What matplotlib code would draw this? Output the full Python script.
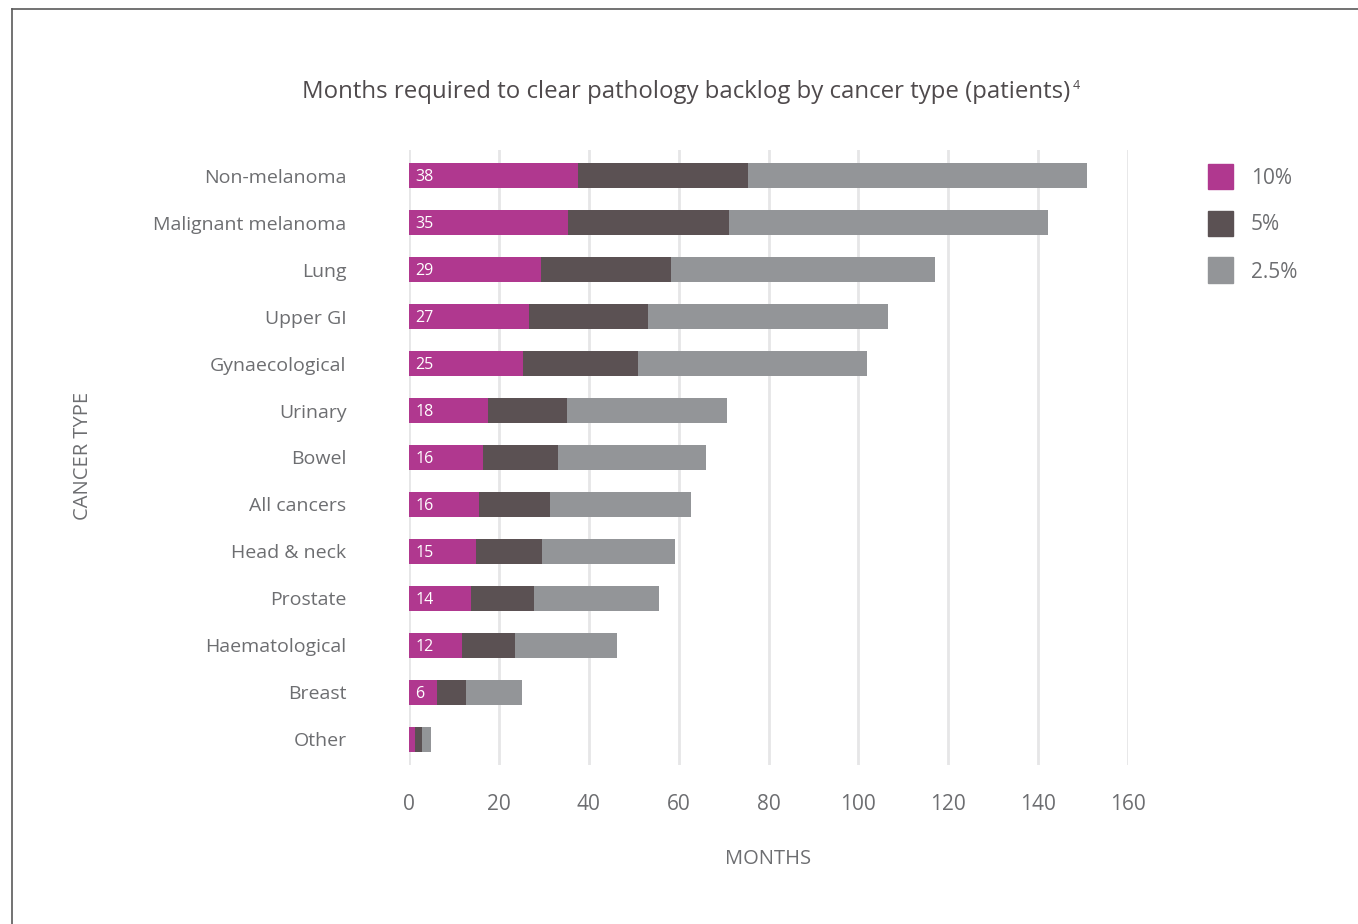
import matplotlib.pyplot as plt
from matplotlib.lines import Line2D
from matplotlib.patches import Rectangle
import numpy as np

plt.rcParams['font.family'] = ['Open Sans', 'DejaVu Sans']

# months needed to clear the backlog at each extra-capacity rate
cancer_types = ["Non-melanoma", "Malignant melanoma", "Lung", "Upper GI",
                "Gynaecological", "Urinary", "Bowel", "All cancers",
                "Head & neck", "Prostate", "Haematological", "Breast", "Other"]
months_10 = [37.7, 35.4, 29.3, 26.6, 25.3, 17.6, 16.4, 15.6, 14.8, 13.9, 11.7, 6.3, 1.3]
months_5 = [75.4, 71.1, 58.3, 53.2, 51.0, 35.2, 33.2, 31.4, 29.6, 27.8, 23.6, 12.7, 2.9]
months_25 = [150.9, 142.2, 117.0, 106.6, 101.9, 70.8, 66.1, 62.7, 59.2, 55.6, 46.3, 25.1, 4.9]
rates = ["10%", "5%", "2.5%"]
show_label = [True] * 12 + [False]

PINK = "#B0388F"
DARK = "#5B5153"
GREY = "#939598"
TEXT = "#6D6E71"

fig = plt.figure(figsize=(13.58, 9.24), dpi=100)
ax = fig.add_axes([409 / 1358, 1 - 765 / 924, 719 / 1358, 615 / 924])

y = np.arange(len(cancer_types))
m10 = np.array(months_10)
m5 = np.array(months_5)
m25 = np.array(months_25)
h = 0.53
ax.barh(y, m10, height=h, color=PINK, zorder=3)
ax.barh(y, m5 - m10, left=m10, height=h, color=DARK, zorder=3)
ax.barh(y, m25 - m5, left=m5, height=h, color=GREY, zorder=3)

for yi, v, s in zip(y, m10, show_label):
    if s:
        ax.text(1.4, yi + 0.03, f"{v:.0f}", color="white", fontsize=11.5,
                va="center", ha="left", zorder=4)

ax.set_xlim(0, 160)
ax.set_ylim(len(cancer_types) - 0.45, -0.55)
ax.set_xticks(np.arange(0, 161, 20))
ax.set_yticks(y)
ax.set_yticklabels(cancer_types, fontsize=14)
ax.tick_params(axis="both", length=0, labelcolor=TEXT)
ax.tick_params(axis="x", labelsize=15, pad=21)
ax.tick_params(axis="y", pad=45)
ax.grid(axis="x", color="#E6E6E7", linewidth=2, zorder=0)
for sp in ax.spines.values():
    sp.set_visible(False)

ax.set_xlabel("MONTHS", fontsize=14.5, color=TEXT, labelpad=24)
fig.text(83 / 1358, 1 - 456 / 924, "CANCER TYPE", rotation=90, fontsize=14.5,
         color=TEXT, ha="center", va="center")

title = fig.text(686 / 1358, 1 - 92 / 924,
                 "Months required to clear pathology backlog by cancer type (patients)",
                 fontsize=17.3, color="#4F4A4C", ha="center", va="center")
ax.annotate("4", xy=(1, 1), xycoords=title, xytext=(1.5, 1), textcoords="offset points",
            fontsize=9, color="#4F4A4C", ha="left", va="top")

# legend drawn by hand to sit in line with the top three bars
for i, (lab, col) in enumerate(zip(rates, [PINK, DARK, GREY])):
    yc = 176 + 47 * i
    fig.patches.append(Rectangle((1208 / 1358, 1 - (yc + 12.5) / 924), 25 / 1358, 25 / 924,
                                 transform=fig.transFigure, color=col))
    fig.text(1251 / 1358, 1 - (yc + 2) / 924, lab, fontsize=15, color=TEXT,
             ha="left", va="center")

# page frame
fig.add_artist(Line2D([12 / 1358, 1], [1 - 9 / 924, 1 - 9 / 924], color="#5A5A5A", linewidth=1.2))
fig.add_artist(Line2D([12 / 1358, 12 / 1358], [0, 1 - 9 / 924], color="#5A5A5A", linewidth=1.2))

fig.savefig("out.png", dpi=100, facecolor="white")
